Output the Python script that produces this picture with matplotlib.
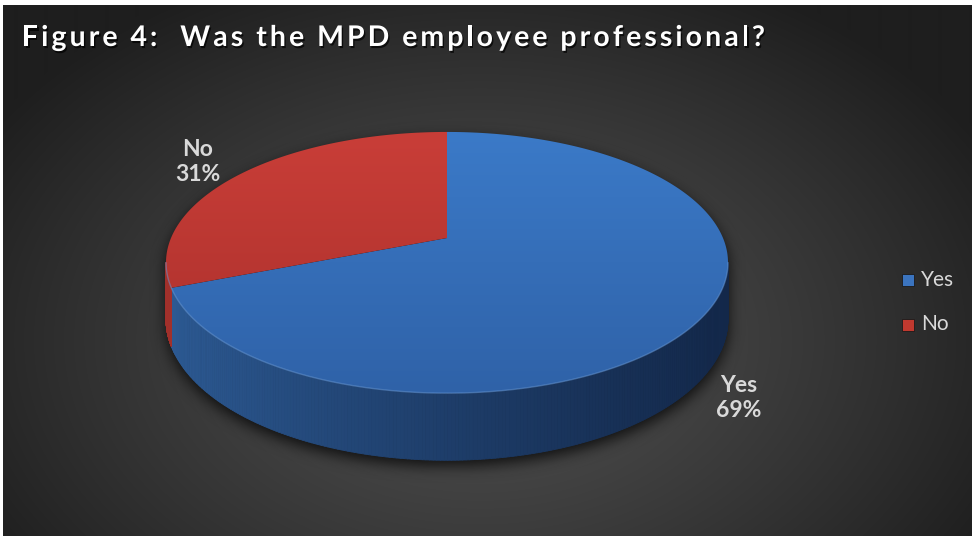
import numpy as np
import matplotlib
matplotlib.use("Agg")
import matplotlib.pyplot as plt
from matplotlib.path import Path
from matplotlib.patches import Polygon, Rectangle
from matplotlib.collections import PolyCollection
from matplotlib.colors import to_rgb
from matplotlib.font_manager import FontProperties
import matplotlib.patheffects as pe

# ---- data -------------------------------------------------------------
categories = ["Yes", "No"]
shares = [69, 31]
label_text = ["Yes\n69%", "No\n31%"]
title = "Figure 4:  Was the MPD employee professional?"

# ---- styling ----------------------------------------------------------
top_colors = {"Yes": ("#3b7ac8", "#2f62a8"), "No": ("#c93e38", "#a92f2b")}
side_colors = {"Yes": ("#2d5b95", "#13284a"), "No": ("#a2302b", "#7a201d")}
legend_colors = {"Yes": "#3b74bf", "No": "#c0392f"}
text_color = "#d9d9d9"
FONT = "Lato"

W, H = 972, 536
fig = plt.figure(figsize=(W / 100, H / 100), dpi=100)
fig.patch.set_facecolor("white")
ax = fig.add_axes([0, 0, 1, 1])
ax.set_xlim(0, W)
ax.set_ylim(H, 0)
ax.axis("off")

# ---- background: dark radial gradient ---------------------------------
X0, Y0 = 3, 5
yy, xx = np.mgrid[Y0:H, X0:W] + 0.5
d = np.sqrt(((xx - 480) / 580) ** 2 + ((yy - 340) / 400) ** 2)
val = (80 - 50 * np.clip(d, 0, 1) ** 1.25) / 255.0
bg = np.dstack([val, val, val])
ax.imshow(bg, extent=(X0, W, H, Y0), origin="upper", zorder=0,
          interpolation="bilinear", aspect="auto")

# ---- perspective disc projection --------------------------------------
CX, CY = 447, 238          # projected centre of the top face
A, B, K = 276, 126, 0.188  # radii and perspective strength
DEPTH = 54.5               # thickness of the disc


def proj(theta_deg, h=0.0):
    t = np.radians(theta_deg)
    u, v = np.cos(t), np.sin(t)
    s = 1.0 / (1.0 + K * v)
    return CX + A * u * s, CY - B * v * s + DEPTH * h * s


# slice angles: first slice starts at 12 o'clock, running clockwise
bounds = {}
start = 90.0
for cat, val_ in zip(categories, shares):
    span = 360.0 * val_ / sum(shares)
    bounds[cat] = (start, start - span)
    start -= span

t_tan = np.degrees(np.arcsin(K))
vis_lo, vis_hi = -180.0 + t_tan, -t_tan   # visible front wall range

# ---- soft shadow under the disc ---------------------------------------
th_far = np.linspace(-t_tan, 180 + t_tan, 200)
th_near = np.linspace(180 + t_tan, 360 - t_tan, 200)
sx = np.concatenate([proj(th_far)[0], proj(th_near, 1.0)[0]])
sy = np.concatenate([proj(th_far)[1], proj(th_near, 1.0)[1]])
sil = Path(np.column_stack([sx, sy + 6]))
gy, gx = np.mgrid[0:H, 0:W] + 0.5
mask = sil.contains_points(np.column_stack([gx.ravel(), gy.ravel()])).reshape(H, W).astype(float)
sig = 7.0
kx = np.arange(-21, 22)
kern = np.exp(-kx ** 2 / (2 * sig ** 2))
kern /= kern.sum()
blur = mask.copy()
for axis in (0, 1):
    acc = np.zeros_like(blur)
    for off, w in zip(kx, kern):
        acc += w * np.roll(blur, off, axis=axis)
    blur = acc
shadow = np.zeros((H, W, 4))
shadow[..., 3] = 0.75 * blur
ax.imshow(shadow, extent=(0, W, H, 0), origin="upper", zorder=1, aspect="auto")

# ---- side wall --------------------------------------------------------
def lerp(c1, c2, f):
    a, b = np.array(to_rgb(c1)), np.array(to_rgb(c2))
    return a + (b - a) * f


x_left, x_right = proj(180 + t_tan)[0], proj(-t_tan)[0]
for cat in categories:
    a0, a1 = bounds[cat]
    hi, lo = min(a0, vis_hi), max(a1, vis_lo)
    if hi <= lo:
        continue
    th = np.linspace(lo, hi, 240)
    polys, cols = [], []
    for t0, t1 in zip(th[:-1], th[1:]):
        p = [proj(t0), proj(t1), proj(t1, 1.0), proj(t0, 1.0)]
        polys.append(p)
        xm = 0.5 * (p[0][0] + p[1][0])
        f = np.clip((xm - x_left) / (x_right - x_left), 0, 1) ** 0.8
        cols.append(lerp(*side_colors[cat], f))
    ax.add_collection(PolyCollection(polys, facecolors=cols, edgecolors=cols,
                                     linewidths=0.6, zorder=2))

# ---- top faces with vertical gradient ---------------------------------
for cat in categories:
    a0, a1 = bounds[cat]
    th = np.linspace(a0, a1, 300)
    px, py = proj(th)
    verts = np.vstack([[CX, CY], np.column_stack([px, py]), [CX, CY]])
    poly = Polygon(verts, closed=True, facecolor="none", edgecolor="none", zorder=3)
    ax.add_patch(poly)
    c_top, c_bot = top_colors[cat]
    ys = np.linspace(0, 1, 256)[:, None]
    grad = lerp(c_top, c_bot, ys[..., None] * np.ones((1, 2, 1)))
    y_top, y_bot = proj(90)[1], proj(270)[1]
    im = ax.imshow(grad, extent=(x_left - 5, x_right + 5, y_bot, y_top),
                   origin="upper", zorder=3, aspect="auto", interpolation="bilinear")
    im.set_clip_path(poly)

# subtle highlight on the front rim
th_r = np.linspace(vis_lo, vis_hi, 300)
rx, ry = proj(th_r)
ax.plot(rx, ry, color="#6a9ad6", lw=1.0, alpha=0.5, zorder=4,
        solid_capstyle="round")

# ---- data labels ------------------------------------------------------
label_pos = {"Yes": (739, 398), "No": (198, 162)}
for cat, txt in zip(categories, label_text):
    x, y = label_pos[cat]
    ax.text(x, y, txt, ha="center", va="center", fontsize=16.5, fontweight="bold",
            family=FONT, color=text_color, linespacing=1.2, zorder=6)

# ---- legend -----------------------------------------------------------
leg_y = {"Yes": 279.5, "No": 324.5}
for cat in categories:
    y = leg_y[cat]
    ax.add_patch(Rectangle((902, y - 6), 12, 12, facecolor=legend_colors[cat],
                           edgecolor="#1a1a1a", linewidth=0.6, zorder=6))
    ax.text(921, y, cat, ha="left", va="center", fontsize=15, family=FONT,
            color=text_color, zorder=6)

# ---- title with letter spacing ----------------------------------------
renderer = fig.canvas.get_renderer()
fp = FontProperties(family=FONT, weight="bold", size=20.5)


def text_w(s):
    w, _, _ = renderer.get_text_width_height_descent(s + "x", fp, ismath=False)
    wx, _, _ = renderer.get_text_width_height_descent("x", fp, ismath=False)
    return w - wx


natural = text_w(title)
target_w = 743.0
gap = (target_w - natural) / (len(title) - 1)
shadow_fx = [pe.SimplePatchShadow(offset=(1.0, -1.5), shadow_rgbFace="black", alpha=0.7),
             pe.Normal()]
for i, ch in enumerate(title):
    if ch == " ":
        continue
    x = 22 + text_w(title[:i]) + gap * i
    ax.text(x, 46, ch, ha="left", va="baseline", fontproperties=fp,
            color="white", zorder=7, path_effects=shadow_fx)

fig.savefig("out.png", dpi=100, facecolor=fig.get_facecolor())
